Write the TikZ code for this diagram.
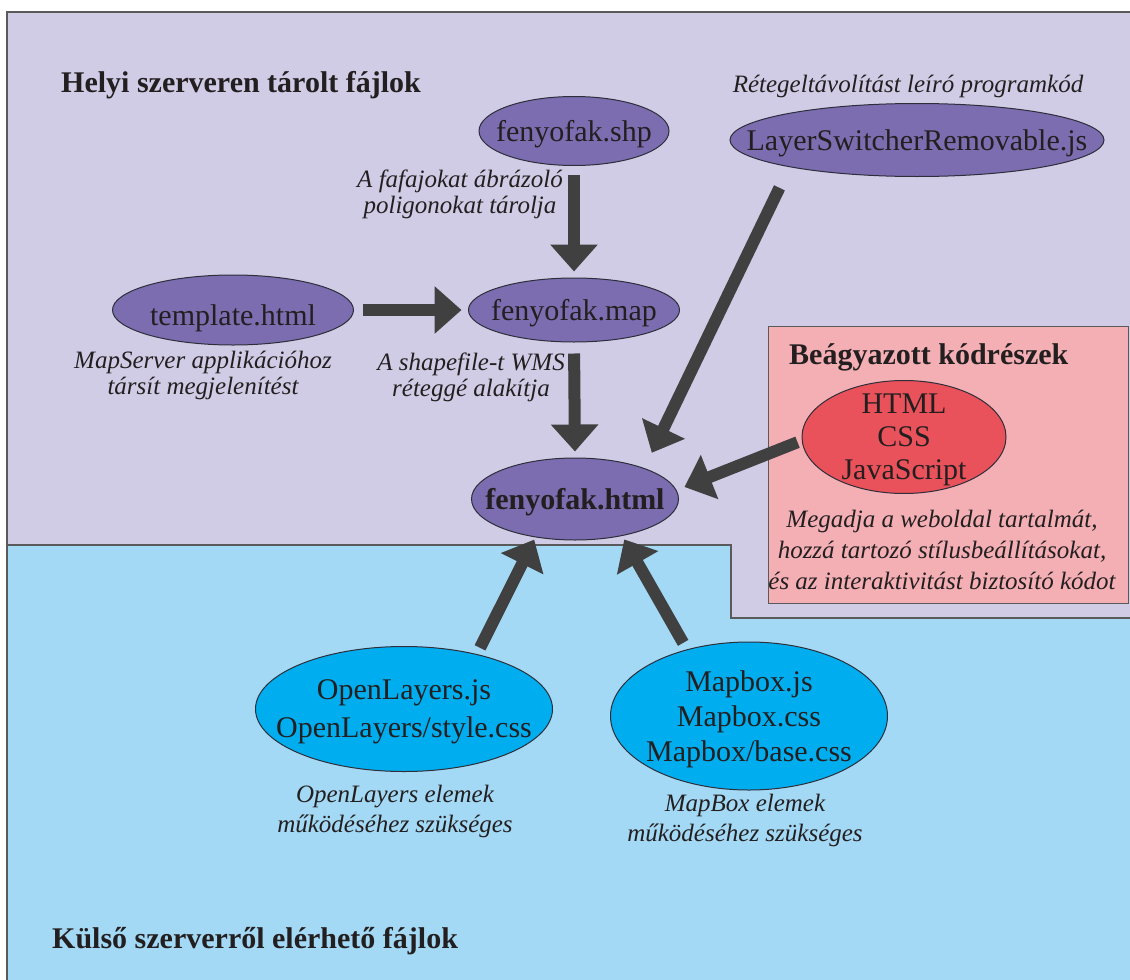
\documentclass[tikz,border=0pt]{standalone}
\usepackage{fontspec}
\setmainfont{Liberation Serif}
\usetikzlibrary{arrows.meta,shapes.geometric}
\definecolor{lav}{HTML}{D0CCE5}
\definecolor{sky}{HTML}{A3D9F5}
\definecolor{purp}{HTML}{7B6DB0}
\definecolor{cyanell}{HTML}{00AEEF}
\definecolor{pinkbox}{HTML}{F4AFB5}
\definecolor{redell}{HTML}{E9525A}
\definecolor{arrgray}{HTML}{404040}
\definecolor{edgecol}{HTML}{2E2E3A}
\definecolor{framecol}{HTML}{5A5A5A}
\definecolor{txt}{HTML}{231F20}
\begin{document}
\begin{tikzpicture}[x=1pt,y=-1pt,
  ell/.style={ellipse, draw=edgecol, line width=1pt, inner sep=0pt},
  pell/.style={ell, fill=purp},
  cell/.style={ell, fill=cyanell},
  rell/.style={ell, fill=redell},
  lbl/.style={font=\fontsize{30}{35}\selectfont, align=center, text=txt, inner sep=0pt, yshift=-3pt},
  captext/.style={font=\fontsize{25}{26}\selectfont\itshape, align=center, text=txt, inner sep=0pt},
  ttl/.style={font=\fontsize{30}{36}\selectfont\bfseries, anchor=base west, text=txt, inner sep=0pt},
  arr/.style={line width=12pt, draw=arrgray, -{Triangle[width=46pt,length=27pt]}},
]
\useasboundingbox (0,0) rectangle (1130,980);
% regions
\fill[lav] (7,12) -- (1130,12) -- (1130,618) -- (731,618) -- (731,545) -- (7,545) -- cycle;
\fill[sky] (7,545) -- (731,545) -- (731,618) -- (1130,618) -- (1130,980) -- (7,980) -- cycle;
\draw[framecol, line width=1.5pt] (7,980) -- (7,12) -- (1130,12);
\draw[framecol, line width=1.2pt] (7,545) -- (731,545) -- (731,618) -- (1130,618);
\node[draw=framecol, fill=pinkbox, line width=1.2pt, minimum width=360pt, minimum height=277pt, inner sep=0pt, anchor=north west] (pink) at (768,326) {};

% titles
\node[ttl] (t1) at (61,92) {Helyi szerveren tárolt fájlok};
\node[ttl] (t2) at (52,948) {Külső szerverről elérhető fájlok};
\node[ttl] (t3) at (789,364) {Beágyazott kódrészek};

% ellipses
\node[pell, minimum width=190pt, minimum height=69pt, label={[lbl]center:fenyofak.shp}] (shp) at (574,131) {};
\node[pell, minimum width=211pt, minimum height=64pt, label={[lbl]center:fenyofak.map}] (map) at (574,310) {};
\node[pell, minimum width=241pt, minimum height=70pt, label={[lbl,yshift=-5pt]center:template.html}] (tpl) at (233,310) {};
\node[pell, minimum width=207pt, minimum height=82pt, label={[lbl,yshift=0pt,font=\fontsize{30}{35}\selectfont\bfseries]center:fenyofak.html}] (html) at (575,499) {};
\node[pell, minimum width=374pt, minimum height=73pt, label={[lbl]center:LayerSwitcherRemovable.js}] (ls) at (917,140) {};
\node[rell, minimum width=204pt, minimum height=113pt, label={[lbl,font=\fontsize{30}{33}\selectfont]center:{HTML\\CSS\\JavaScript}}] (red) at (904,437) {};
\node[cell, minimum width=297pt, minimum height=125pt, label={[lbl,font=\fontsize{30}{38}\selectfont]center:{OpenLayers.js\\OpenLayers/style.css}}] (ol) at (404,709) {};
\node[cell, minimum width=277pt, minimum height=148pt, label={[lbl]center:{Mapbox.js\\Mapbox.css\\Mapbox/base.css}}] (mb) at (749,716) {};

% captions
\node[captext] (c1) at (460,194) {A fafajokat ábrázoló\\poligonokat tárolja};
\node[captext] (c2) at (203,375) {MapServer applikációhoz\\társít megjelenítést};
\node[captext] (c3) at (471,377) {A shapefile-t WMS\\réteggé alakítja};
\node[captext, font=\fontsize{25}{31}\selectfont\itshape] (c4) at (942,550) {Megadja a weboldal tartalmát,\\hozzá tartozó stílusbeállításokat,\\és az interaktivitást biztosító kódot};
\node[captext, font=\fontsize{25}{30}\selectfont\itshape] (c5) at (395,811) {OpenLayers elemek\\működéséhez szükséges};
\node[captext, font=\fontsize{25}{30}\selectfont\itshape] (c6) at (745,820) {MapBox elemek\\működéséhez szükséges};
\node[captext, anchor=base] (c7) at (908,92) {Rétegeltávolítást leíró programkód};

% arrows
\draw[arr, shorten <=9pt, shorten >=6pt] (shp.south) -- (map.north);
\draw[arr, shorten <=8.5pt, shorten >=6.5pt] (tpl.east) -- (map.west);
\draw[arr, shorten <=11pt, shorten >=6pt] (map.south) -- (html.north);
\draw[arr, shorten <=23pt, shorten >=17pt] (ls.192) -- (html.24);
\draw[arr, shorten <=4.5pt, shorten >=8.5pt] (red.182) -- (html.5);
\draw[arr, shorten <=7pt, shorten >=2.5pt] (ol.37) -- (html.224);
\draw[arr, shorten <=7.5pt, shorten >=4pt] (mb.133) -- (html.322);
\end{tikzpicture}
\end{document}
